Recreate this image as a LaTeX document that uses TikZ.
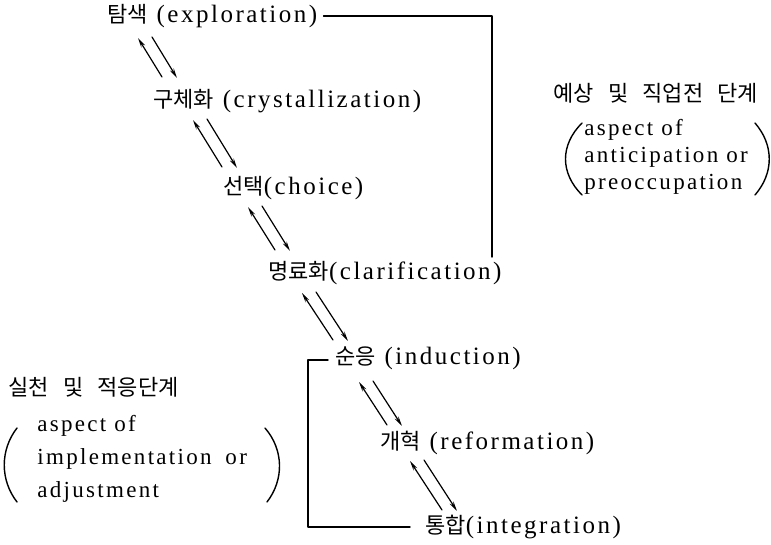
\documentclass[tikz,border=0pt]{standalone}
\usepackage{fontspec}
\setmainfont{Liberation Serif}[LetterSpace=10]
\newfontfamily\kr{Noto Sans CJK KR}[Scale=0.88]
\usetikzlibrary{arrows.meta,calc}

% two opposite arrows between successive stages
\newcommand{\twoway}[6]{%
	\draw[link] ($(#2.west)+(#5,#6)$) -- ($(#1.west)+(#3,#4)$);
	\draw[link] ($(#1.west)+(#3+14,#4-1)$) -- ($(#2.west)+(#5+15,#6+1)$);
}

\begin{document}
\begin{tikzpicture}[
						x=0.5pt, y=-0.5pt,
						every node/.style={font=\fontsize{12.5}{14}\selectfont},
						line cap=round,
						line join=round,
						stage/.style={anchor=west, inner sep=0pt},
						note/.style={anchor=west, inner sep=0pt, align=left},
						link/.style={line width=0.6pt, -{Stealth[length=5pt,width=2.2pt]}},
						frame/.style={line width=0.7pt}
						]
						
						\useasboundingbox (0,0) rectangle (771,545);
						
						% Stages
						\node[stage] (tamsaek) at (107,16) {{\kr 탐색} (exploration)};
						\node[stage] (guche) at (153,101) {{\kr 구체화} (crystallization)};
						\node[stage] (seontaek) at (223,188) {{\kr 선택}(choice)};
						\node[stage] (myeong) at (268,273) {{\kr 명료화}(clarification)};
						\node[stage] (suneung) at (335,358) {{\kr 순응} (induction)};
						\node[stage] (gaehyeok) at (380,443) {{\kr 개혁} (reformation)};
						\node[stage] (tonghap) at (425,527) {{\kr 통합}(integration)};
						
						% Arrows between stages
						\twoway{tamsaek}{guche}{31}{22}{9}{-24}
						\twoway{guche}{seontaek}{40}{19}{-1}{-21}
						\twoway{seontaek}{myeong}{25}{19}{7}{-23}
						\twoway{myeong}{suneung}{34}{20}{-2}{-18}
						\twoway{suneung}{gaehyeok}{24}{24}{7}{-18}
						\twoway{gaehyeok}{tonghap}{30}{18}{17}{-17}
						
						% Brackets
						\coordinate (rfoot) at (492,257);
						\draw[frame] ($(tamsaek.east)+(6,0)$) -| (rfoot);
						\draw[frame] ($(suneung.west)+(-7,2)$) -- ++(-20,0) |- ($(tonghap.west)+(-15,0)$);
						
						% Right note
						\node[anchor=west, inner sep=0pt] (rtitle) at (553,93) {\kr 예상\hspace{0.65em}및\hspace{0.65em}직업전\hspace{0.65em}단계};
						\node[note, font=\fontsize{11.5}{13.5}\selectfont] (rnote) at (584,157) {aspect of\\anticipation or\\preoccupation};
						\draw[frame] (582,123) .. controls (560,145) and (560,173) .. (582,195);
						\draw[frame] (755,123) .. controls (774,145) and (774,173) .. (755,195);
						
						% Left note
						\node[anchor=west, inner sep=0pt] (ltitle) at (8,387) {\kr 실천\hspace{0.65em}및\hspace{0.65em}적응단계};
						\node[note, font=\fontsize{11.5}{16.5}\selectfont] (lnote) at (37,459) {aspect of\\implementation\hspace{0.6em}or\\adjustment};
						\draw[frame] (17,428) .. controls (0,450) and (0,480) .. (17,502);
						\draw[frame] (265,428) .. controls (284,450) and (284,480) .. (267,502);
						
					\end{tikzpicture}
\end{document}
